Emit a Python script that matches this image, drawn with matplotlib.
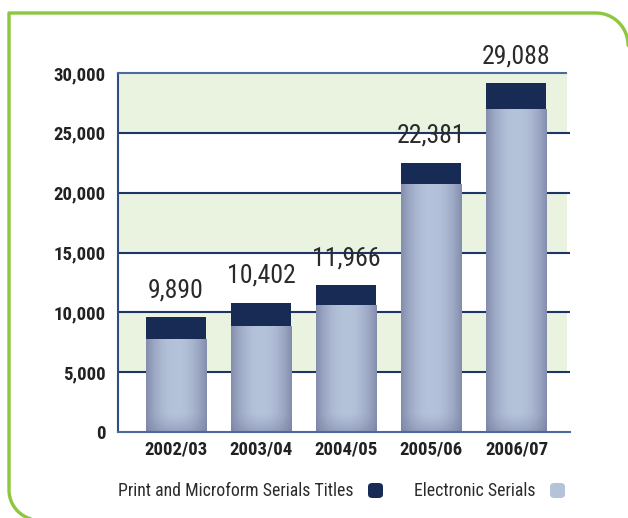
import numpy as np
import matplotlib
matplotlib.use("Agg")
import matplotlib.pyplot as plt
from matplotlib.patches import Rectangle, FancyBboxPatch

years = ['2002/03', '2003/04', '2004/05', '2005/06', '2006/07']
electronic = [7800, 8860, 10650, 20730, 27030]
print_titles = [1770, 1950, 1630, 1790, 2120]
totals = [9890, 10402, 11966, 22381, 29088]
yticks = [0, 5000, 10000, 15000, 20000, 25000, 30000]

NAVY = '#172b55'
LIGHT = '#b4c2da'
GRID = '#1c3566'
BAND = '#e9f3df'
GREEN = '#8dc63f'
narrow = ['Roboto Condensed', 'DejaVu Sans']

fig = plt.figure(figsize=(6.28, 5.18), dpi=100)

# frame with rounded corners, drawn in pixel coords
bg = fig.add_axes([0, 0, 1, 1], zorder=0)
bg.set_xlim(0, 628)
bg.set_ylim(518, 0)
bg.axis('off')
t = np.linspace(0, np.pi / 2, 30)
r1, r2 = 32, 30
px = [9, 9, 596]
py = [490, 13, 13]
arc_x = 596 + r1 * np.sin(t)
arc_y = 13 + r1 - r1 * np.cos(t)
bl_x = 9 + r2 - r2 * np.cos(t)
bl_y = 490 + r2 * np.sin(t)
bg.plot(list(bl_x[::-1]) + px + list(arc_x) + [640], list(bl_y[::-1]) + py + list(arc_y) + [arc_y[-1] + 10],
        color=GREEN, lw=2.4, solid_capstyle='butt')

ax = fig.add_axes([118 / 628, 1 - 432 / 518, (570 - 118) / 628, (432 - 73) / 518], zorder=1)
ax.patch.set_alpha(0)
xl = (-58 / 85, 4 + 53.5 / 85)

band_end = (567 - 118) / (570 - 118)
for lo in [5000, 15000, 25000]:
    ax.axhspan(lo, lo + 5000, xmin=0, xmax=band_end, color=BAND, lw=0, zorder=0)
for y in yticks[1:-1]:
    ax.axhline(y, color=GRID, lw=1.5, zorder=1)

# gradient for the electronic bars
gx = np.linspace(-1, 1, 60)
shade = 1 - 0.75 * np.abs(gx) ** 2.2
light = np.array(matplotlib.colors.to_rgb(LIGHT))
dark = np.array(matplotlib.colors.to_rgb('#747c9e'))

x = np.arange(len(years))
w = 60 / 85
for i, (e, p) in enumerate(zip(electronic, print_titles)):
    npx = int(e / 30000 * 359)
    gy = np.linspace(0, 1, max(npx, 2)) * npx
    vfade = np.clip(gy / 18, 0, 1) ** 0.7  # darker near the bottom
    mix = shade[None, :] * (0.5 + 0.5 * vfade[:, None])
    img = dark[None, None, :] + (light - dark)[None, None, :] * mix[:, :, None]
    rect = Rectangle((x[i] - w / 2, 0), w, e, facecolor='none', lw=0, zorder=2)
    ax.add_patch(rect)
    im = ax.imshow(img, extent=(x[i] - w / 2, x[i] + w / 2, 0, e), origin='lower',
                   aspect='auto', zorder=2, interpolation='bilinear')
    im.set_clip_path(rect)
    ax.bar(x[i], p, bottom=e, width=w, color=NAVY, zorder=3)
    ax.text(x[i], e + p + 1250, f'{totals[i]:,}', ha='center', va='bottom',
            fontsize=18.5, fontweight='normal', color='#2a2a2a', family=narrow)

ax.set_xlim(*xl)
ax.set_ylim(0, 30000)

ax.spines['right'].set_visible(False)
ax.spines['top'].set_color('#4b6a9e')
ax.spines['top'].set_linewidth(1.5)
ax.spines['top'].set_bounds(xl[0], 4 + 50 / 85)
ax.spines['left'].set_color('#2e4c86')
ax.spines['left'].set_linewidth(1.5)
ax.spines['bottom'].set_color('#4b6a9e')
ax.spines['bottom'].set_linewidth(1.5)

ax.set_yticks(yticks)
ax.set_yticklabels([f'{v:,}' for v in yticks], fontsize=13.5, fontweight='bold',
                   color='#222222', family=narrow)
ax.set_xticks(x)
ax.set_xticklabels(years, fontsize=13.5, fontweight='bold', color='#222222', family=narrow)
ax.tick_params(length=0, pad=9)
ax.tick_params(axis='x', pad=6)

# legend along the bottom
fig.text(118 / 628, 1 - 491 / 518, 'Print and Microform Serials Titles', fontsize=12.8,
         color='#2b2b2b', family=narrow, va='center', ha='left')
fig.text(414 / 628, 1 - 491 / 518, 'Electronic Serials', fontsize=12.8,
         color='#2b2b2b', family=narrow, va='center', ha='left')
for x0, c in [(368, NAVY), (550, LIGHT)]:
    fig.patches.append(FancyBboxPatch((x0 / 628, 1 - 498 / 518), 15 / 628, 15 / 518,
                                      boxstyle='round,pad=0,rounding_size=0.007',
                                      transform=fig.transFigure, facecolor=c, edgecolor='none'))

fig.savefig('out.png', dpi=100)
